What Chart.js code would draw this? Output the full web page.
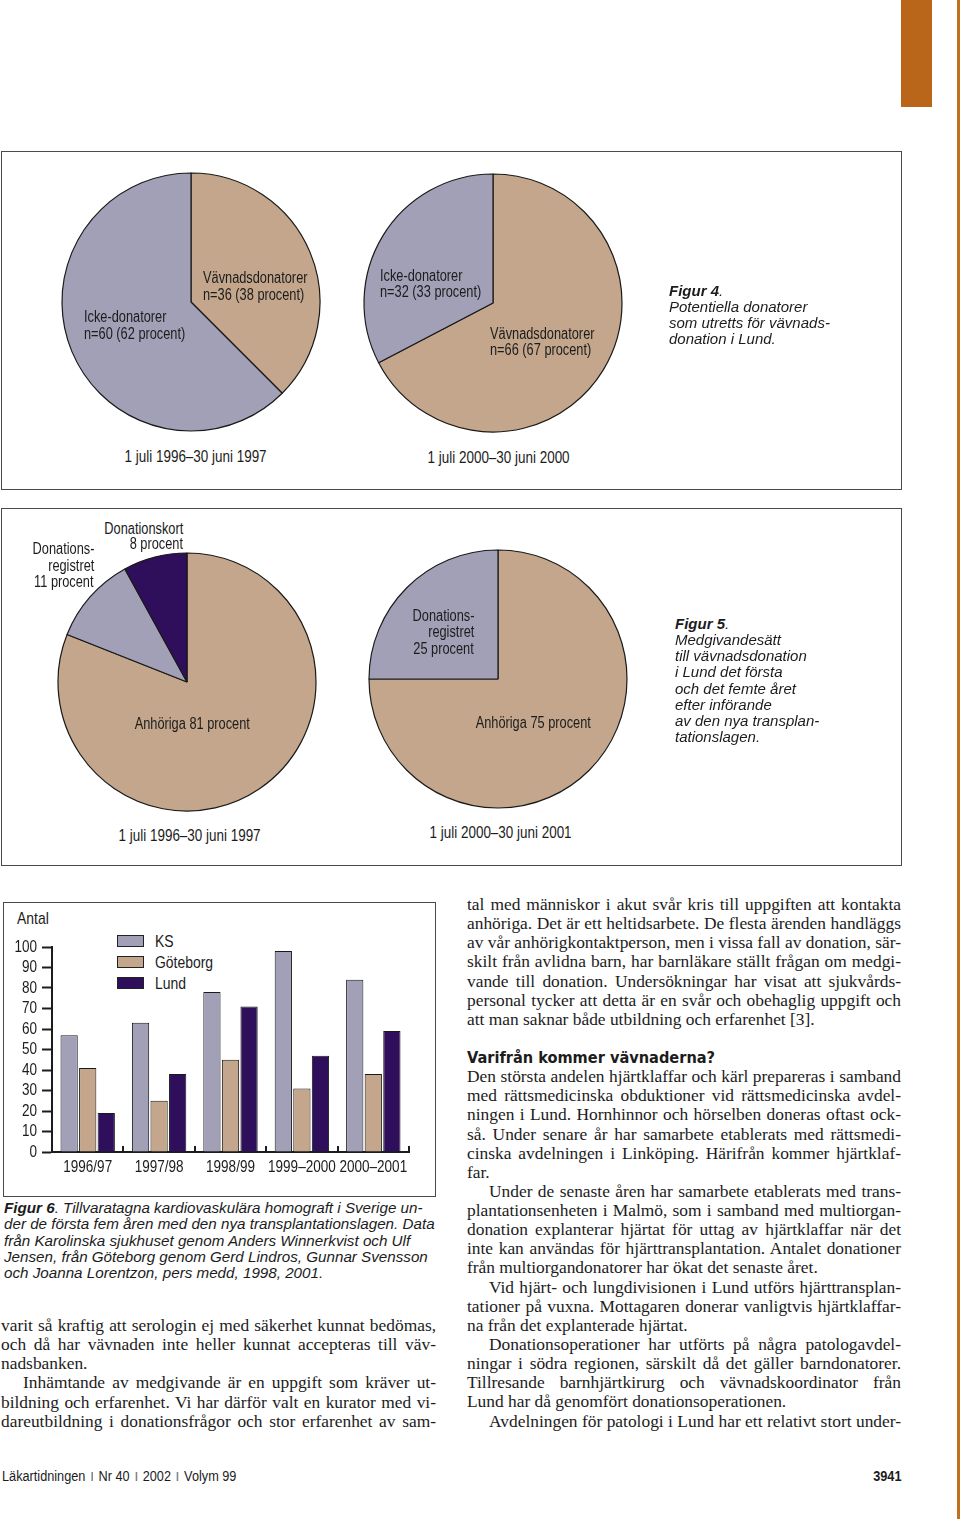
<!DOCTYPE html>
<html><head><meta charset="utf-8">
<script src="https://cdn.jsdelivr.net/npm/chart.js@4"></script>
<style>
body{margin:0;width:960px;height:1519px;position:relative;background:#fff;overflow:hidden;color:#1c1c1c}
.t{position:absolute;white-space:nowrap;line-height:16px}
.n{font-family:'Liberation Sans',Arial,sans-serif}
.i{font-family:'Liberation Sans',Arial,sans-serif;font-style:italic}
.s{font-family:'Liberation Serif','Times New Roman',serif}
.h{font-family:'DejaVu Sans Condensed','DejaVu Sans',sans-serif;font-weight:bold}
.box{position:absolute;border:1.5px solid #4a4a4a;box-sizing:border-box}
canvas{position:absolute}
.sw{position:absolute;width:27px;height:12px;border:1px solid #222;box-sizing:border-box}
</style></head><body>
<script>
// ---------- DATA ----------
const fig4Labels = ['Vävnadsdonatorer', 'Icke-donatorer'];
const fig4Period1 = [36, 60];   // 1 juli 1996–30 juni 1997
const fig4Period2 = [66, 32];   // 1 juli 2000–30 juni 2000
const fig5Labels = ['Anhöriga', 'Donationsregistret', 'Donationskort'];
const fig5Period1 = [81, 11, 8];
const fig5Period2 = [75, 25];
const fig6Years = ['1996/97', '1997/98', '1998/99', '1999–2000', '2000–2001'];
const fig6KS = [57, 63, 78, 98, 84];
const fig6Goteborg = [41, 25, 45, 31, 38];
const fig6Lund = [19, 38, 71, 47, 59];
const fig6Series = ['KS', 'Göteborg', 'Lund'];

const LAV = '#a2a0b7', TAN = '#c3a68b', PUR = '#2f0e5b';
const NARROW = 0.82;
Chart.defaults.font.family = "'Liberation Sans',Arial,sans-serif";
Chart.defaults.color = '#1c1c1c';

function T(x, y, text, cls, align, size, weight) {
  const d = document.createElement('div');
  d.className = 't';
  const s = document.createElement('span');
  s.className = cls;
  s.textContent = text;
  s.style.fontSize = size + 'px';
  if (weight) s.style.fontWeight = weight;
  if (cls === 'n') {
    s.style.display = 'inline-block';
    s.style.transform = 'scaleX(' + NARROW + ')';
    s.style.transformOrigin = align === 'r' ? 'right center' : (align === 'c' ? 'center center' : 'left center');
  }
  d.appendChild(s);
  d.style.top = (y - 8) + 'px';
  if (align === 'r') { d.style.right = (960 - x) + 'px'; d.style.textAlign = 'right'; }
  else if (align === 'c') { d.style.left = (x - 300) + 'px'; d.style.width = '600px'; d.style.textAlign = 'center'; }
  else d.style.left = x + 'px';
  document.body.appendChild(d);
  return s;
}
function box(l, t, r, b) {
  const d = document.createElement('div'); d.className = 'box';
  Object.assign(d.style, {left: l + 'px', top: t + 'px', width: (r - l) + 'px', height: (b - t) + 'px'});
  document.body.appendChild(d);
}
function rect(l, t, w, h, c) {
  const d = document.createElement('div');
  Object.assign(d.style, {position: 'absolute', left: l + 'px', top: t + 'px', width: w + 'px', height: h + 'px', background: c});
  document.body.appendChild(d);
  return d;
}
function pie(cx, cy, labels, data, colors) {
  const c = document.createElement('canvas');
  c.width = 264; c.height = 264;
  c.style.left = (cx - 132) + 'px'; c.style.top = (cy - 132) + 'px';
  document.body.appendChild(c);
  new Chart(c, {
    type: 'pie',
    data: {labels: labels, datasets: [{data: data, backgroundColor: colors, borderColor: '#1a1a1a', borderWidth: 1.2, radius: 129}]},
    options: {responsive: false, animation: false, layout: {padding: 0},
      plugins: {legend: {display: false}, tooltip: {enabled: false}}}
  });
}

// decorations
rect(901, 0, 31, 107, '#b9661a');
rect(957, 0, 3, 1519, '#c0701f');

// ---------- Figure 4 ----------
box(1, 151, 902, 490);
pie(191, 302, fig4Labels, fig4Period1, [TAN, LAV]);
pie(493, 303, fig4Labels, fig4Period2, [TAN, LAV]);
T(203, 278, 'Vävnadsdonatorer', 'n', 'l', 15.6);
T(203, 295, 'n=36 (38 procent)', 'n', 'l', 15.6);
T(84, 317, 'Icke-donatorer', 'n', 'l', 15.6);
T(84, 334, 'n=60 (62 procent)', 'n', 'l', 15.6);
T(196, 456, '1 juli 1996–30 juni 1997', 'n', 'c', 16.4);
T(380, 276, 'Icke-donatorer', 'n', 'l', 15.6);
T(380, 292, 'n=32 (33 procent)', 'n', 'l', 15.6);
T(490, 334, 'Vävnadsdonatorer', 'n', 'l', 15.6);
T(490, 350, 'n=66 (67 procent)', 'n', 'l', 15.6);
T(499, 457, '1 juli 2000–30 juni 2000', 'n', 'c', 16.4);
T(669, 291, '', 'i', 'l', 15).innerHTML = '<b>Figur 4</b>.';
T(669, 307, 'Potentiella donatorer', 'i', 'l', 15);
T(669, 323, 'som utretts för vävnads-', 'i', 'l', 15);
T(669, 339, 'donation i Lund.', 'i', 'l', 15);

// ---------- Figure 5 ----------
box(1, 508, 902, 866);
pie(187, 682, fig5Labels, fig5Period1, [TAN, LAV, PUR]);
pie(498, 679, fig5Labels.slice(0, 2), fig5Period2, [TAN, LAV]);
T(183, 529, 'Donationskort', 'n', 'r', 15.6);
T(183, 544, '8 procent', 'n', 'r', 15.6);
T(94, 549, 'Donations-', 'n', 'r', 15.6);
T(94, 566, 'registret', 'n', 'r', 15.6);
T(94, 582, '11 procent', 'n', 'r', 15.6);
T(192, 724, 'Anhöriga 81 procent', 'n', 'c', 15.6);
T(190, 835, '1 juli 1996–30 juni 1997', 'n', 'c', 16.4);
T(474, 616, 'Donations-', 'n', 'r', 15.6);
T(474, 632, 'registret', 'n', 'r', 15.6);
T(474, 649, '25 procent', 'n', 'r', 15.6);
T(533, 723, 'Anhöriga 75 procent', 'n', 'c', 15.6);
T(501, 832, '1 juli 2000–30 juni 2001', 'n', 'c', 16.4);
T(675, 624, '', 'i', 'l', 15).innerHTML = '<b>Figur 5</b>.';
['Medgivandesätt', 'till vävnadsdonation', 'i Lund det första', 'och det femte året',
 'efter införande', 'av den nya transplan-', 'tationslagen.'].forEach((s, k) => T(675, 640 + k * 16.2, s, 'i', 'l', 15));

// ---------- Figure 6 ----------
box(3, 902, 436, 1197);
T(17, 919, 'Antal', 'n', 'l', 17);
[[LAV, 935], [TAN, 956], [PUR, 977]].forEach(([c, y], k) => {
  const s = document.createElement('div'); s.className = 'sw';
  s.style.left = '117px'; s.style.top = y + 'px'; s.style.background = c;
  document.body.appendChild(s);
  T(155, y + 6.5, fig6Series[k], 'n', 'l', 17);
});
(function(){
  const c = document.createElement('canvas');
  c.width = 420; c.height = 260; c.style.left = '0px'; c.style.top = '930px';
  document.body.appendChild(c);
  function narrowText(ctx, text, x, y, align, size) {
    ctx.save();
    ctx.translate(x, y); ctx.scale(NARROW, 1);
    ctx.font = size + "px 'Liberation Sans', Arial, sans-serif";
    ctx.textAlign = align; ctx.textBaseline = 'middle'; ctx.fillStyle = '#1c1c1c';
    ctx.fillText(text, 0, 0);
    ctx.restore();
  }
  const axisDecor = {id: 'axisDecor', afterDraw(chart) {
    const x = chart.scales.x, y = chart.scales.y, ctx = chart.ctx;
    const w = x.getPixelForTick(1) - x.getPixelForTick(0);
    ctx.save(); ctx.strokeStyle = '#1c1c1c'; ctx.lineWidth = 2;
    for (let i = 0; i < x.ticks.length; i++) {
      const px = Math.round(x.getPixelForTick(i) + w / 2);
      ctx.beginPath(); ctx.moveTo(px, y.bottom); ctx.lineTo(px, y.bottom - 6); ctx.stroke();
    }
    ctx.restore();
    x.ticks.forEach((t, i) => narrowText(ctx, x.getLabelForValue(t.value), x.getPixelForTick(i), y.bottom + 15, 'center', 16.5));
    y.ticks.forEach((t, i) => narrowText(ctx, String(t.value), y.left + 37, y.getPixelForTick(i), 'right', 16.5));
  }};
  new Chart(c, {
    type: 'bar',
    data: {labels: fig6Years, datasets: [
      {label: fig6Series[0], data: fig6KS, backgroundColor: LAV},
      {label: fig6Series[1], data: fig6Goteborg, backgroundColor: TAN},
      {label: fig6Series[2], data: fig6Lund, backgroundColor: PUR}
    ].map(d => Object.assign(d, {borderColor: '#1a1a1a', borderWidth: 1, categoryPercentage: 0.78, barPercentage: 0.93}))},
    options: {
      responsive: false, animation: false,
      layout: {padding: {top: 17, right: 11, left: 0, bottom: 0}},
      plugins: {legend: {display: false}, tooltip: {enabled: false}},
      scales: {
        x: {offset: true, afterFit(s) { s.height = 38; },
          grid: {display: true, drawOnChartArea: false, drawTicks: false},
          border: {display: true, color: '#1c1c1c', width: 2},
          ticks: {display: false, autoSkip: false}},
        y: {min: 0, max: 100, afterFit(s) { s.width = 52; },
          grid: {display: true, drawOnChartArea: false, drawTicks: true, tickLength: 10, tickWidth: 2, tickColor: '#1c1c1c'},
          border: {display: true, color: '#1c1c1c', width: 2},
          ticks: {display: false, stepSize: 10, autoSkip: false}}
      }
    },
    plugins: [axisDecor]
  });
})();
['Tillvaratagna kardiovaskulära homograft i Sverige un-',
 'der de första fem åren med den nya transplantationslagen. Data',
 'från Karolinska sjukhuset genom Anders Winnerkvist och Ulf',
 'Jensen, från Göteborg genom Gerd Lindros, Gunnar Svensson',
 'och Joanna Lorentzon, pers medd, 1998, 2001.'].forEach((s, k) => {
  const d = T(4, 1208 + k * 16.3, s, 'i', 'l', 15.2);
  if (k === 0) d.innerHTML = '<b>Figur 6</b>. ' + s;
});

// ---------- body text ----------
function body(x, y0, W, lines) {
  lines.forEach((ln, k) => {
    if (!ln) return;
    const [txt, mode] = ln;
    const y = y0 + k * 19.13;
    const ind = mode.includes('i') ? 22 : 0;
    const d = document.createElement('div');
    d.className = 't ' + (mode.includes('h') ? 'h' : 's');
    d.style.fontSize = mode.includes('h') ? '16.2px' : '17.4px';
    d.style.lineHeight = '19px';
    d.style.left = (x + ind) + 'px';
    d.style.top = (y - 10) + 'px';
    const sp = document.createElement('span');
    sp.textContent = txt;
    d.appendChild(sp);
    document.body.appendChild(d);
    if (mode.includes('j')) {
      const nat = sp.getBoundingClientRect().width;
      const target = W - ind;
      const spaces = (txt.match(/ /g) || []).length;
      if (spaces) {
        let ws = (target - nat) / spaces;
        if (ws < -1.5) { const ls = (target - nat + 1.5 * spaces) / txt.length; sp.style.letterSpacing = ls + 'px'; ws = -1.5; }
        sp.style.wordSpacing = ws + 'px';
      }
    }
  });
}
body(467, 905, 434, [
  ['tal med människor i akut svår kris till uppgiften att kontakta', 'j'],
  ['anhöriga. Det är ett heltidsarbete. De flesta ärenden handläggs', 'j'],
  ['av vår anhörigkontaktperson, men i vissa fall av donation, sär-', 'j'],
  ['skilt från avlidna barn, har barnläkare ställt frågan om medgi-', 'j'],
  ['vande till donation. Undersökningar har visat att sjukvårds-', 'j'],
  ['personal tycker att detta är en svår och obehaglig uppgift och', 'j'],
  ['att man saknar både utbildning och erfarenhet [3].', ''],
  null,
  ['Varifrån kommer vävnaderna?', 'h'],
  ['Den största andelen hjärtklaffar och kärl prepareras i samband', 'j'],
  ['med rättsmedicinska obduktioner vid rättsmedicinska avdel-', 'j'],
  ['ningen i Lund. Hornhinnor och hörselben doneras oftast ock-', 'j'],
  ['så. Under senare år har samarbete etablerats med rättsmedi-', 'j'],
  ['cinska avdelningen i Linköping. Härifrån kommer hjärtklaf-', 'j'],
  ['far.', ''],
  ['Under de senaste åren har samarbete etablerats med trans-', 'ji'],
  ['plantationsenheten i Malmö, som i samband med multiorgan-', 'j'],
  ['donation explanterar hjärtat för uttag av hjärtklaffar när det', 'j'],
  ['inte kan användas för hjärttransplantation. Antalet donationer', 'j'],
  ['från multiorgandonatorer har ökat det senaste året.', ''],
  ['Vid hjärt- och lungdivisionen i Lund utförs hjärttransplan-', 'ji'],
  ['tationer på vuxna. Mottagaren donerar vanligtvis hjärtklaffar-', 'j'],
  ['na från det explanterade hjärtat.', ''],
  ['Donationsoperationer har utförts på några patologavdel-', 'ji'],
  ['ningar i södra regionen, särskilt då det gäller barndonatorer.', 'j'],
  ['Tillresande barnhjärtkirurg och vävnadskoordinator från', 'j'],
  ['Lund har då genomfört donationsoperationen.', ''],
  ['Avdelningen för patologi i Lund har ett relativt stort under-', 'ji']
]);
body(1, 1326, 435, [
  ['varit så kraftig att serologin ej med säkerhet kunnat bedömas,', 'j'],
  ['och då har vävnaden inte heller kunnat accepteras till väv-', 'j'],
  ['nadsbanken.', ''],
  ['Inhämtande av medgivande är en uppgift som kräver ut-', 'ji'],
  ['bildning och erfarenhet. Vi har därför valt en kurator med vi-', 'j'],
  ['dareutbildning i donationsfrågor och stor erfarenhet av sam-', 'j']
]);

// ---------- footer ----------
(function(){
  const bar = '<span style="display:inline-block;width:2px;height:9px;background:#888;margin:0 7px;vertical-align:0px"></span>';
  T(2, 1476, '', 'n', 'l', 15.5).innerHTML = 'Läkartidningen' + bar + 'Nr 40' + bar + '2002' + bar + 'Volym 99';
  T(901, 1476, '3941', 'n', 'r', 15.5, 'bold');
})();
</script>
</body></html>
